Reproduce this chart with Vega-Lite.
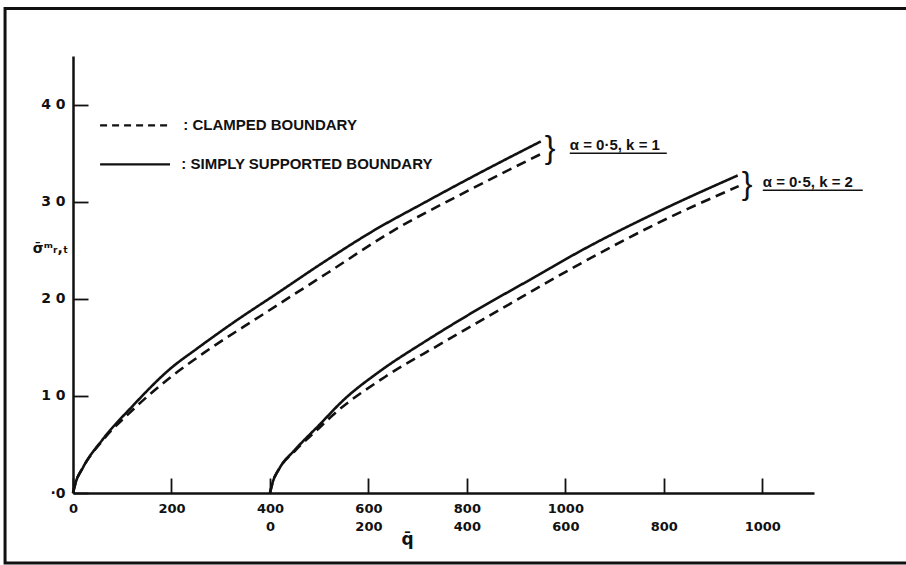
{
  "$schema": "https://vega.github.io/schema/vega-lite/v6.json",
  "width": 741,
  "height": 437,
  "autosize": {"type": "none"},
  "padding": {"left": 73, "top": 56, "right": 92, "bottom": 72},
  "background": "white",
  "config": {
    "view": {"stroke": null},
    "font": "Liberation Sans",
    "axis": {
      "grid": false,
      "domainColor": "#111",
      "domainWidth": 2.5,
      "tickColor": "#111",
      "tickWidth": 1.8,
      "labelColor": "#111",
      "labelFont": "DejaVu Sans",
      "labelFontWeight": "bold",
      "labelFontSize": 14,
      "labelFlush": false,
      "labelOverlap": false,
      "titleColor": "#111"
    }
  },
  "datasets": {
    "k1": [
      {"q": 0, "v": 0, "boundary": "simply supported"},
      {"q": 5, "v": 1.0, "boundary": "simply supported"},
      {"q": 20, "v": 2.6, "boundary": "simply supported"},
      {"q": 60, "v": 5.5, "boundary": "simply supported"},
      {"q": 120, "v": 8.9, "boundary": "simply supported"},
      {"q": 200, "v": 12.9, "boundary": "simply supported"},
      {"q": 250, "v": 14.8, "boundary": "simply supported"},
      {"q": 330, "v": 17.7, "boundary": "simply supported"},
      {"q": 410, "v": 20.4, "boundary": "simply supported"},
      {"q": 510, "v": 23.8, "boundary": "simply supported"},
      {"q": 610, "v": 27.0, "boundary": "simply supported"},
      {"q": 710, "v": 29.8, "boundary": "simply supported"},
      {"q": 820, "v": 32.8, "boundary": "simply supported"},
      {"q": 950, "v": 36.2, "boundary": "simply supported"},
      {"q": 0, "v": 0, "boundary": "clamped"},
      {"q": 5, "v": 1.0, "boundary": "clamped"},
      {"q": 20, "v": 2.6, "boundary": "clamped"},
      {"q": 60, "v": 5.4, "boundary": "clamped"},
      {"q": 120, "v": 8.5, "boundary": "clamped"},
      {"q": 200, "v": 12.0, "boundary": "clamped"},
      {"q": 265, "v": 14.4, "boundary": "clamped"},
      {"q": 380, "v": 18.2, "boundary": "clamped"},
      {"q": 515, "v": 22.6, "boundary": "clamped"},
      {"q": 650, "v": 27.0, "boundary": "clamped"},
      {"q": 790, "v": 30.8, "boundary": "clamped"},
      {"q": 950, "v": 34.9, "boundary": "clamped"}
    ],
    "k2": [
      {"q": 0, "v": 0, "boundary": "simply supported"},
      {"q": 5, "v": 1.0, "boundary": "simply supported"},
      {"q": 20, "v": 2.6, "boundary": "simply supported"},
      {"q": 50, "v": 4.4, "boundary": "simply supported"},
      {"q": 100, "v": 7.0, "boundary": "simply supported"},
      {"q": 150, "v": 9.6, "boundary": "simply supported"},
      {"q": 225, "v": 12.6, "boundary": "simply supported"},
      {"q": 315, "v": 15.6, "boundary": "simply supported"},
      {"q": 415, "v": 18.7, "boundary": "simply supported"},
      {"q": 540, "v": 22.3, "boundary": "simply supported"},
      {"q": 630, "v": 24.9, "boundary": "simply supported"},
      {"q": 790, "v": 29.0, "boundary": "simply supported"},
      {"q": 950, "v": 32.7, "boundary": "simply supported"},
      {"q": 0, "v": 0, "boundary": "clamped"},
      {"q": 5, "v": 1.0, "boundary": "clamped"},
      {"q": 20, "v": 2.6, "boundary": "clamped"},
      {"q": 50, "v": 4.3, "boundary": "clamped"},
      {"q": 100, "v": 6.7, "boundary": "clamped"},
      {"q": 125, "v": 7.9, "boundary": "clamped"},
      {"q": 235, "v": 12.0, "boundary": "clamped"},
      {"q": 345, "v": 15.3, "boundary": "clamped"},
      {"q": 485, "v": 19.4, "boundary": "clamped"},
      {"q": 630, "v": 23.6, "boundary": "clamped"},
      {"q": 780, "v": 27.6, "boundary": "clamped"},
      {"q": 952, "v": 31.6, "boundary": "clamped"}
    ],
    "anchor": [{}]
  },
  "resolve": {"scale": {"x": "independent"}, "axis": {"x": "independent"}},
  "layer": [
    {
      "data": {"name": "k1"},
      "mark": {"type": "line", "interpolate": "monotone", "color": "#111", "strokeWidth": 2.6},
      "encoding": {
        "x": {
          "field": "q",
          "type": "quantitative",
          "scale": {"domain": [0, 1505], "nice": false, "zero": false},
          "axis": {
            "orient": "bottom",
            "values": [0, 200, 400, 600, 800, 1000, 1200, 1400],
            "format": "d",
            "labelExpr": "datum.value <= 1000 ? datum.label : ''",
            "tickSize": -15,
            "labelPadding": 24,
            "labelFontSize": 13,
            "title": null
          }
        },
        "y": {
          "field": "v",
          "type": "quantitative",
          "scale": {"domain": [0, 45], "nice": false},
          "axis": {
            "values": [0, 10, 20, 30, 40],
            "labelExpr": "datum.value == 0 ? '·0' : replace(datum.label, '0', ' 0')",
            "tickSize": -15,
            "labelPadding": 23,
            "title": "σ̄ᵐᵣ,ₜ",
            "titleAngle": 0,
            "titleX": -23,
            "titleY": 192,
            "titleAlign": "center",
            "titleBaseline": "middle",
            "titleFont": "DejaVu Sans",
            "titleFontSize": 14,
            "titleFontWeight": "bold"
          }
        },
        "strokeDash": {
          "field": "boundary",
          "type": "nominal",
          "scale": {"domain": ["simply supported", "clamped"], "range": [[1, 0], [10, 6]]},
          "legend": null
        }
      }
    },
    {
      "data": {"name": "k2"},
      "mark": {"type": "line", "interpolate": "monotone", "color": "#111", "strokeWidth": 2.6},
      "encoding": {
        "x": {
          "field": "q",
          "type": "quantitative",
          "scale": {"domain": [-400, 1105], "nice": false, "zero": false},
          "axis": {
            "orient": "bottom",
            "values": [0, 200, 400, 600, 800, 1000],
            "format": "d",
            "ticks": false,
            "domain": false,
            "labelPadding": 27,
            "labelFontSize": 13,
            "title": "q̄",
            "titleX": 334,
            "titleY": 46,
            "titleBaseline": "middle",
            "titleFont": "DejaVu Sans",
            "titleFontSize": 17,
            "titleFontWeight": "bold"
          }
        },
        "y": {"field": "v", "type": "quantitative"},
        "strokeDash": {
          "field": "boundary",
          "type": "nominal",
          "scale": {"domain": ["simply supported", "clamped"], "range": [[1, 0], [10, 6]]},
          "legend": null
        }
      }
    },
    {
      "data": {"name": "anchor"},
      "mark": {"type": "rect", "filled": false, "stroke": "#111", "strokeWidth": 3},
      "encoding": {
        "x": {"datum": -138, "type": "quantitative", "scale": {"domain": [0, 1505], "nice": false, "zero": false}, "axis": null},
        "x2": {"datum": 1700},
        "y": {"datum": 49.9, "type": "quantitative"},
        "y2": {"datum": -7.2}
      }
    },
    {
      "data": {"name": "anchor"},
      "mark": {"type": "rule", "color": "#111", "strokeWidth": 2.2, "strokeDash": [7, 5]},
      "encoding": {
        "x": {"datum": 55, "type": "quantitative", "scale": {"domain": [0, 1505], "nice": false, "zero": false}, "axis": null},
        "x2": {"datum": 197},
        "y": {"datum": 37.86, "type": "quantitative"}
      }
    },
    {
      "data": {"name": "anchor"},
      "mark": {"type": "rule", "color": "#111", "strokeWidth": 2.2},
      "encoding": {
        "x": {"datum": 55, "type": "quantitative", "scale": {"domain": [0, 1505], "nice": false, "zero": false}, "axis": null},
        "x2": {"datum": 197},
        "y": {"datum": 33.85, "type": "quantitative"}
      }
    },
    {
      "data": {"name": "anchor"},
      "mark": {"type": "text", "align": "left", "baseline": "middle", "font": "Liberation Sans", "fontWeight": "bold", "fontSize": 15, "color": "#111"},
      "encoding": {
        "x": {"datum": 224, "type": "quantitative", "scale": {"domain": [0, 1505], "nice": false, "zero": false}, "axis": null},
        "y": {"datum": 37.86, "type": "quantitative"},
        "text": {"value": ": CLAMPED BOUNDARY"}
      }
    },
    {
      "data": {"name": "anchor"},
      "mark": {"type": "text", "align": "left", "baseline": "middle", "font": "Liberation Sans", "fontWeight": "bold", "fontSize": 15, "color": "#111"},
      "encoding": {
        "x": {"datum": 220, "type": "quantitative", "scale": {"domain": [0, 1505], "nice": false, "zero": false}, "axis": null},
        "y": {"datum": 33.85, "type": "quantitative"},
        "text": {"value": ": SIMPLY SUPPORTED BOUNDARY"}
      }
    },
    {
      "data": {"name": "anchor"},
      "mark": {"type": "text", "align": "center", "baseline": "middle", "font": "Liberation Sans", "fontSize": 32, "color": "#111"},
      "encoding": {
        "x": {"datum": 969, "type": "quantitative", "scale": {"domain": [0, 1505], "nice": false, "zero": false}, "axis": null},
        "y": {"datum": 35.5, "type": "quantitative"},
        "text": {"value": "}"}
      }
    },
    {
      "data": {"name": "anchor"},
      "mark": {"type": "text", "align": "center", "baseline": "middle", "font": "Liberation Sans", "fontSize": 32, "color": "#111"},
      "encoding": {
        "x": {"datum": 1369, "type": "quantitative", "scale": {"domain": [0, 1505], "nice": false, "zero": false}, "axis": null},
        "y": {"datum": 31.8, "type": "quantitative"},
        "text": {"value": "}"}
      }
    },
    {
      "data": {"name": "anchor"},
      "mark": {"type": "text", "align": "left", "baseline": "middle", "font": "Liberation Sans", "fontWeight": "bold", "fontSize": 15, "color": "#111"},
      "encoding": {
        "x": {"datum": 1009, "type": "quantitative", "scale": {"domain": [0, 1505], "nice": false, "zero": false}, "axis": null},
        "y": {"datum": 35.8, "type": "quantitative"},
        "text": {"value": "α = 0·5, k = 1"}
      }
    },
    {
      "data": {"name": "anchor"},
      "mark": {"type": "text", "align": "left", "baseline": "middle", "font": "Liberation Sans", "fontWeight": "bold", "fontSize": 15, "color": "#111"},
      "encoding": {
        "x": {"datum": 1401, "type": "quantitative", "scale": {"domain": [0, 1505], "nice": false, "zero": false}, "axis": null},
        "y": {"datum": 32.0, "type": "quantitative"},
        "text": {"value": "α = 0·5, k = 2"}
      }
    },
    {
      "data": {"name": "anchor"},
      "mark": {"type": "rule", "color": "#111", "strokeWidth": 1.6},
      "encoding": {
        "x": {"datum": 1009, "type": "quantitative", "scale": {"domain": [0, 1505], "nice": false, "zero": false}, "axis": null},
        "x2": {"datum": 1206},
        "y": {"datum": 34.98, "type": "quantitative"}
      }
    },
    {
      "data": {"name": "anchor"},
      "mark": {"type": "rule", "color": "#111", "strokeWidth": 1.6},
      "encoding": {
        "x": {"datum": 1401, "type": "quantitative", "scale": {"domain": [0, 1505], "nice": false, "zero": false}, "axis": null},
        "x2": {"datum": 1604},
        "y": {"datum": 31.17, "type": "quantitative"}
      }
    }
  ]
}
